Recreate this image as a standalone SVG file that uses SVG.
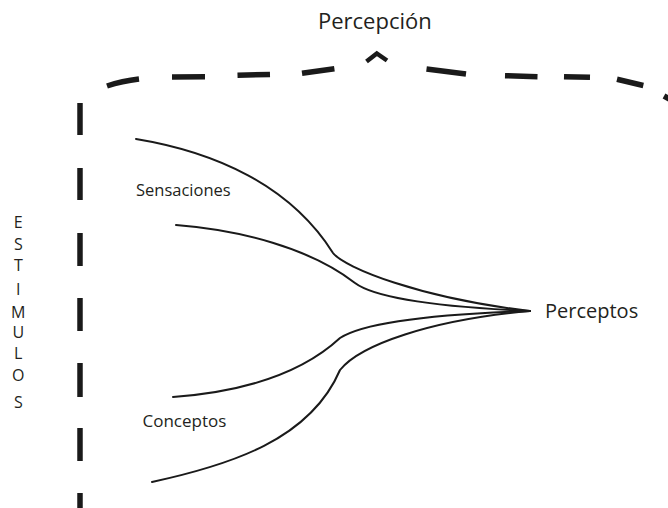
<svg xmlns="http://www.w3.org/2000/svg" width="668" height="508" viewBox="0 0 668 508">
<style>
  .dash { stroke: #1a1a1a; stroke-width: 5.5; fill: none; stroke-linecap: butt; }
  .caret { stroke: #1a1a1a; stroke-width: 4.5; fill: none; stroke-linejoin: miter; }
  .flow { stroke: #1a1a1a; stroke-width: 2; fill: none; stroke-linecap: round; }
  text { font-family: "Open Sans", "Noto Sans", "Liberation Sans", sans-serif; fill: #231f20; }
  .vert { font-size: 16px; text-anchor: middle; }
</style>
<rect width="668" height="508" fill="#ffffff"/>

<g id="percepcion-bracket">
  <line class="dash" x1="80" y1="103" x2="80" y2="135"/>
  <line class="dash" x1="80" y1="168" x2="80" y2="200"/>
  <line class="dash" x1="80" y1="233" x2="80" y2="266"/>
  <line class="dash" x1="80" y1="298" x2="80" y2="331"/>
  <line class="dash" x1="80" y1="363" x2="80" y2="397"/>
  <line class="dash" x1="80" y1="428" x2="80" y2="461"/>
  <line class="dash" x1="80" y1="493" x2="80" y2="508"/>
  <path class="dash" d="M107,86 Q122,81 139,79"/>
  <line class="dash" x1="172" y1="77" x2="205" y2="76.7"/>
  <line class="dash" x1="237.5" y1="75.2" x2="270" y2="74.4"/>
  <line class="dash" x1="302" y1="73.3" x2="334.4" y2="68.7"/>
  <polyline class="caret" points="366.5,61.5 376.8,53.5 387,60.5"/>
  <line class="dash" x1="426.5" y1="69" x2="466" y2="74"/>
  <line class="dash" x1="505" y1="75.7" x2="537.5" y2="76.7"/>
  <line class="dash" x1="564" y1="76.7" x2="590" y2="77.3"/>
  <line class="dash" x1="617" y1="79.3" x2="643.3" y2="85.5"/>
  <line class="dash" x1="664" y1="96" x2="672" y2="100.5"/>
</g>

<g id="connectors">
  <path class="flow" d="M136,139 C215,152 290,185 333,253 C345,268 420,298 530,311"/>
  <path class="flow" d="M176,225 C240,230 310,248 355,283 C375,298 440,307 530,311"/>
  <path class="flow" d="M173,397 C240,392 300,375 340,338 C365,322 440,314 530,311"/>
  <path class="flow" d="M152,482 C230,465 310,440 340,370 C360,345 430,320 530,311"/>
</g>

<g id="percepcion">
  <text x="318" y="28.5" font-size="22">Percepción</text>
</g>
<g id="perceptos">
  <text x="545" y="318.3" font-size="20">Perceptos</text>
</g>
<g id="sensaciones">
  <text x="136" y="196" font-size="16.5">Sensaciones</text>
</g>
<g id="conceptos">
  <text x="142.5" y="427" font-size="17">Conceptos</text>
</g>
<g id="estimulos">
  <text class="vert" x="18.3" y="228">E</text>
  <text class="vert" x="18.3" y="250">S</text>
  <text class="vert" x="18.3" y="271">T</text>
  <text class="vert" x="18.3" y="295">I</text>
  <text class="vert" x="18.3" y="318">M</text>
  <text class="vert" x="18.3" y="338">U</text>
  <text class="vert" x="18.3" y="359">L</text>
  <text class="vert" x="18.3" y="381">O</text>
  <text class="vert" x="18.3" y="408">S</text>
</g>
</svg>
